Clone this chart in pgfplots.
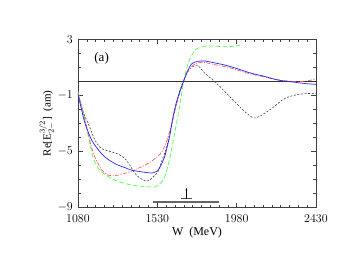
\documentclass[border=0pt]{standalone}
\usepackage{pgfplots}
\pgfplotsset{compat=1.18}
\usetikzlibrary{arrows.meta}
\usepackage{fontspec}
\setmainfont{Liberation Serif}
\begin{document}
\begin{tikzpicture}
\begin{axis}[
  scale only axis, width=238pt, height=168.3pt,
  xmin=1080, xmax=2430, ymin=-9, ymax=3,
  xtick={1080,1530,1980,2430}, ytick={-9,-5,-1,3},
  minor x tick num=8, minor y tick num=3,
  tick align=inside, ticks=both,
  major tick length=5pt, minor tick length=3pt,
  axis line style={black!75, line width=0.6pt},
  every tick/.style={black!75, line width=0.5pt},
  tick label style={font=\fontsize{12}{12}\selectfont, inner sep=0.5pt},
  xticklabel style={yshift=-6.5pt},
  yticklabel style={xshift=-4.5pt},
  /pgf/number format/1000 sep={},
  xlabel={W\ \ (MeV)},
  ylabel={Re[E$^{3/2}_{2-}$]\ \ (am)},
  xlabel style={font=\fontsize{12}{12}\selectfont, yshift=-1pt},
  ylabel style={font=\fontsize{11}{11}\selectfont, yshift=-1pt},
  clip=true,
]
\addplot[black!80, line width=0.6pt] coordinates {(1080,0) (2430,0)};
% black short dashed
\addplot[black!75, dash pattern=on 2pt off 1.6pt, line width=0.6pt, smooth, tension=0.5] coordinates {
(1080,-0.86) (1110,-2.2) (1138,-3.0) (1160,-3.7) (1176,-4.19) (1195,-4.55) (1214,-4.79) (1240,-4.92) (1271,-5.03) (1309,-5.19) (1346,-5.5) (1370,-5.9) (1400,-6.5) (1422,-6.81) (1445,-7.0) (1469,-7.12) (1490,-7.0) (1507,-6.81) (1535,-6.4) (1560,-5.5) (1583,-4.67) (1621,-2.53) (1659,-0.62) (1697,0.57) (1725,1.0) (1753,1.16) (1775,0.95) (1800,0.57) (1857,-0.03) (1914,-0.74) (1970,-1.46) (2027,-2.17) (2074,-2.6) (2100,-2.55) (2122,-2.41) (2179,-1.93) (2254,-1.21) (2330,-0.93) (2380,-0.87) (2430,-0.86)};
% green dashed
\addplot[green!70!white, dash pattern=on 4.5pt off 2.5pt, line width=0.7pt, smooth, tension=0.5] coordinates {
(1080,-0.74) (1105,-2.0) (1129,-3.3) (1150,-4.6) (1167,-5.5) (1195,-6.2) (1224,-6.57) (1290,-7.05) (1365,-7.34) (1441,-7.48) (1480,-7.52) (1517,-7.53) (1545,-7.3) (1565,-7.0) (1583,-6.34) (1600,-5.5) (1621,-4.19) (1649,-2.29) (1678,-0.14) (1700,1.1) (1715,1.6) (1744,2.24) (1780,2.45) (1819,2.52) (1870,2.5) (1913,2.47) (1960,2.5) (1999,2.58)};
% red dash-dot
\addplot[red!65!white, dash pattern=on 4pt off 1.5pt on 1pt off 1.5pt, line width=0.7pt, smooth, tension=0.5] coordinates {
(1080,-0.85) (1105,-2.0) (1129,-3.24) (1150,-4.4) (1176,-5.4) (1214,-6.3) (1250,-6.68) (1290,-6.72) (1330,-6.62) (1385,-6.39) (1430,-6.15) (1460,-5.98) (1507,-5.6) (1545,-5.2) (1573,-4.6) (1602,-3.48) (1620,-2.6) (1640,-1.57) (1668,-0.39) (1697,0.57) (1734,1.16) (1765,1.33) (1800,1.35) (1847,1.21) (1942,0.97) (2037,0.6) (2131,0.33) (2226,0.09) (2320,-0.02) (2380,0.04) (2430,0.16)};
% blue solid
\addplot[blue!85!white, line width=0.7pt, smooth, tension=0.5] coordinates {
(1080,-0.95) (1100,-2.0) (1120,-3.0) (1158,-4.2) (1200,-4.95) (1233,-5.4) (1270,-5.72) (1309,-5.98) (1350,-6.17) (1385,-6.33) (1430,-6.43) (1479,-6.52) (1507,-6.52) (1530,-6.4) (1550,-6.0) (1573,-5.3) (1600,-3.9) (1621,-2.4) (1640,-1.4) (1659,-0.7) (1680,0.05) (1700,0.7) (1725,1.25) (1760,1.43) (1800,1.45) (1850,1.33) (1914,1.16) (1980,0.92) (2065,0.57) (2131,0.38) (2216,0.09) (2320,-0.08) (2380,-0.17) (2430,-0.21)};
% data range bar and marker
\addplot[black!60, line width=1.4pt] coordinates {(1504,-8.6) (1881,-8.6)};
\addplot[black!70, line width=0.9pt] coordinates {(1664,-8.36) (1726,-8.36)};
\addplot[black, line width=0.5pt, -{Stealth[length=2.5pt,width=2pt]}] coordinates {(1695,-8.36) (1695,-7.6)};
\node[font=\fontsize{13}{13}\selectfont] at (axis cs:1214,1.64) {(a)};
\end{axis}
\path[use as bounding box] ([shift={(-78pt,-62.7pt)}]current axis.south west) rectangle ([shift={(33pt,39.3pt)}]current axis.north east);
\end{tikzpicture}
\end{document}
